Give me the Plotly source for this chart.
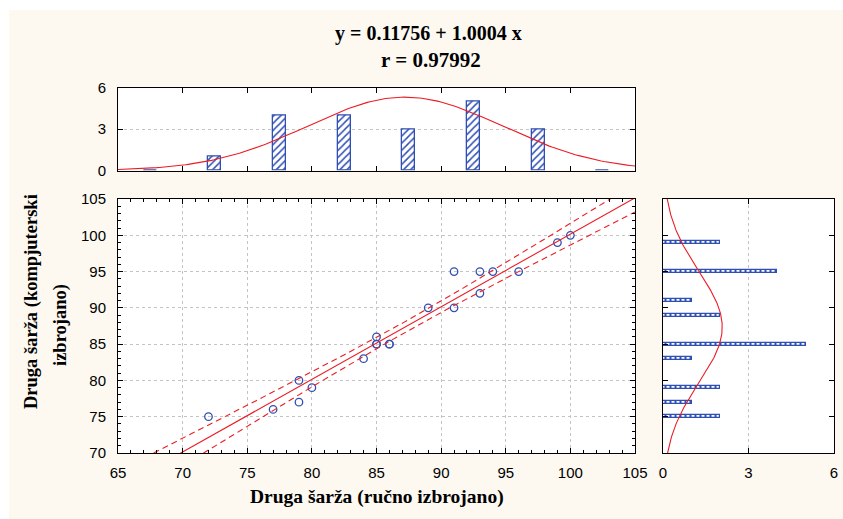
import numpy as np
import plotly.graph_objects as go

# ---------------- data ----------------
x_manual = [72, 77, 79, 79, 80, 84, 85, 85, 85, 86, 86, 89, 91, 91, 93, 93, 94, 96, 99, 100]
y_computer = [75, 76, 80, 77, 79, 83, 86, 85, 85, 85, 85, 90, 95, 90, 95, 92, 95, 95, 99, 100]

top_bin_centers = [67.5, 72.5, 77.5, 82.5, 87.5, 92.5, 97.5, 102.5]
top_bin_counts = [0, 1, 4, 4, 3, 5, 3, 0]

right_bin_centers = [71, 73, 75, 77, 79, 81, 83, 85, 87, 89, 91, 93, 95, 97, 99, 101, 103]
right_bin_counts = [0, 0, 2, 1, 2, 0, 1, 5, 0, 2, 1, 0, 4, 0, 2, 0, 0]

title_line1 = "y = 0.11756 + 1.0004 x"
title_line2 = "r = 0.97992"
x_title = "Druga šarža (ručno izbrojano)"
y_title_1 = "Druga šarža (kompjuterski"
y_title_2 = "izbrojano)"

x_ticks = [65, 70, 75, 80, 85, 90, 95, 100, 105]
y_ticks = [70, 75, 80, 85, 90, 95, 100, 105]
hist_ticks = [0, 3, 6]

# ---------------- derived (fit, CI, normal curves) ----------------
xa = np.array(x_manual, float)
ya = np.array(y_computer, float)
n = len(xa)
slope, intercept = np.polyfit(xa, ya, 1)
xm = xa.mean()
sxx = ((xa - xm) ** 2).sum()
resid = ya - (intercept + slope * xa)
s = np.sqrt((resid ** 2).sum() / (n - 2))
t975 = 2.100922  # t quantile, df = 18
xg = np.linspace(65, 105, 200)
yfit = intercept + slope * xg
half = t975 * s * np.sqrt(1.0 / n + (xg - xm) ** 2 / sxx)

def normal_counts(grid, data, binw):
    mu, sd = np.mean(data), np.std(data, ddof=1)
    return len(data) * binw * np.exp(-0.5 * ((grid - mu) / sd) ** 2) / (sd * np.sqrt(2 * np.pi))

ng_x = np.linspace(65, 105, 200)
ng_y = np.linspace(70, 105, 200)
curve_top = normal_counts(ng_x, xa, 5)
curve_right = normal_counts(ng_y, ya, 2)

# ---------------- styling ----------------
RED = "#ec1c24"
BLUE = "#2f4fb3"
CREAM = "#fdf9f1"
GRID = "#c4c4c4"
W, H = 843, 519

def px_x(p):
    return p / W

def px_y(p):
    return 1 - p / H

fig = go.Figure()

# main scatter
fig.add_trace(go.Scatter(x=xa, y=ya, mode="markers",
                         marker=dict(symbol="circle-open", size=7.5, color=BLUE, line=dict(width=1.3, color=BLUE)),
                         xaxis="x", yaxis="y", hoverinfo="skip"))
fig.add_trace(go.Scatter(x=xg, y=yfit, mode="lines", line=dict(color=RED, width=1.1),
                         xaxis="x", yaxis="y"))
fig.add_trace(go.Scatter(x=xg, y=yfit + half, mode="lines", line=dict(color=RED, width=1.1, dash="6px,4px"),
                         xaxis="x", yaxis="y"))
fig.add_trace(go.Scatter(x=xg, y=yfit - half, mode="lines", line=dict(color=RED, width=1.1, dash="6px,4px"),
                         xaxis="x", yaxis="y"))

# top histogram
fig.add_trace(go.Bar(x=top_bin_centers, y=top_bin_counts, width=1.0,
                     marker=dict(color="white", line=dict(color=BLUE, width=1.3),
                                 pattern=dict(shape="/", fgcolor=BLUE, bgcolor="white", size=5, solidity=0.3)),
                     xaxis="x2", yaxis="y2"))
fig.add_trace(go.Scatter(x=ng_x, y=curve_top, mode="lines", line=dict(color=RED, width=1.1),
                         xaxis="x2", yaxis="y2"))

# right histogram
fig.add_trace(go.Bar(y=right_bin_centers, x=right_bin_counts, width=0.4, orientation="h",
                     marker=dict(color="white", line=dict(color=BLUE, width=1.2),
                                 pattern=dict(shape="|", fgcolor=BLUE, bgcolor="white", size=5, solidity=0.4)),
                     xaxis="x3", yaxis="y3"))
fig.add_trace(go.Scatter(x=curve_right, y=ng_y, mode="lines", line=dict(color=RED, width=1.1),
                         xaxis="x3", yaxis="y3"))

tickfont = dict(family="Liberation Sans, Arial, sans-serif", size=15, color="black")
common = dict(showline=True, linecolor="black", linewidth=1, mirror="allticks",
              ticks="inside", tickcolor="black", ticklen=5, zeroline=False,
              tickfont=tickfont, fixedrange=True)

dom_x_main = [px_x(118), px_x(635)]
dom_y_main = [px_y(453), px_y(199)]
dom_y_top = [px_y(170.5), px_y(87.5)]
dom_x_right = [px_x(663), px_x(834)]

fig.update_layout(
    width=W, height=H, template="none",
    margin=dict(l=0, r=0, t=0, b=0, autoexpand=False),
    paper_bgcolor=CREAM, plot_bgcolor="white",
    showlegend=False, bargap=0,
    xaxis=dict(domain=dom_x_main, range=[65, 105], anchor="y", tickvals=x_ticks,
               showgrid=True, gridcolor=GRID, griddash="dot", gridwidth=1,
               minor=dict(ticks="inside", dtick=1, ticklen=3, tickcolor="black", showgrid=False),
               ticklabelstandoff=6, **common),
    yaxis=dict(domain=dom_y_main, range=[70, 105], anchor="x", tickvals=y_ticks,
               showgrid=True, gridcolor=GRID, griddash="dot", gridwidth=1,
               minor=dict(ticks="inside", dtick=1, ticklen=3, tickcolor="black", showgrid=False),
               ticklabelstandoff=8, **common),
    xaxis2=dict(domain=dom_x_main, range=[65, 105], anchor="y2", tickvals=x_ticks,
                showticklabels=False, showgrid=False, **common),
    yaxis2=dict(domain=dom_y_top, range=[0, 6], anchor="x2", tickvals=hist_ticks,
                showgrid=True, gridcolor=GRID, griddash="dot", gridwidth=1,
                ticklabelstandoff=8, **common),
    xaxis3=dict(domain=dom_x_right, range=[0, 6], anchor="y3", tickvals=hist_ticks,
                showgrid=True, gridcolor=GRID, griddash="dot", gridwidth=1,
                ticklabelstandoff=6, **common),
    yaxis3=dict(domain=dom_y_main, range=[70, 105], anchor="x3", tickvals=y_ticks,
                showticklabels=False, showgrid=False, **common),
)

# white outer margin strips (top and left)
fig.add_shape(type="rect", xref="paper", yref="paper", x0=0, x1=1, y0=px_y(10), y1=1,
              fillcolor="white", line=dict(width=0), layer="below")
fig.add_shape(type="rect", xref="paper", yref="paper", x0=0, x1=px_x(9), y0=0, y1=1,
              fillcolor="white", line=dict(width=0), layer="below")

serif = "Liberation Serif, Times New Roman, serif"
fig.add_annotation(text="<b>%s</b>" % title_line1, xref="paper", yref="paper",
                   x=px_x(428), y=px_y(33), showarrow=False, xanchor="center", yanchor="middle",
                   font=dict(family=serif, size=20, color="black"))
fig.add_annotation(text="<b>%s</b>" % title_line2, xref="paper", yref="paper",
                   x=px_x(431), y=px_y(60), showarrow=False, xanchor="center", yanchor="middle",
                   font=dict(family=serif, size=21, color="black"))
fig.add_annotation(text="<b>%s</b>" % x_title, xref="paper", yref="paper",
                   x=px_x(377), y=px_y(497), showarrow=False, xanchor="center", yanchor="middle",
                   font=dict(family=serif, size=19.5, color="black"))
fig.add_annotation(text="<b>%s</b>" % y_title_1, xref="paper", yref="paper",
                   x=px_x(31), y=px_y(302), showarrow=False, xanchor="center", yanchor="middle",
                   textangle=-90, font=dict(family=serif, size=18.5, color="black"))
fig.add_annotation(text="<b>%s</b>" % y_title_2, xref="paper", yref="paper",
                   x=px_x(60), y=px_y(325), showarrow=False, xanchor="center", yanchor="middle",
                   textangle=-90, font=dict(family=serif, size=18.5, color="black"))

fig.write_html("out.html", config={"displayModeBar": False},
               post_script="document.body.style.margin='0';document.body.style.padding='0';")
